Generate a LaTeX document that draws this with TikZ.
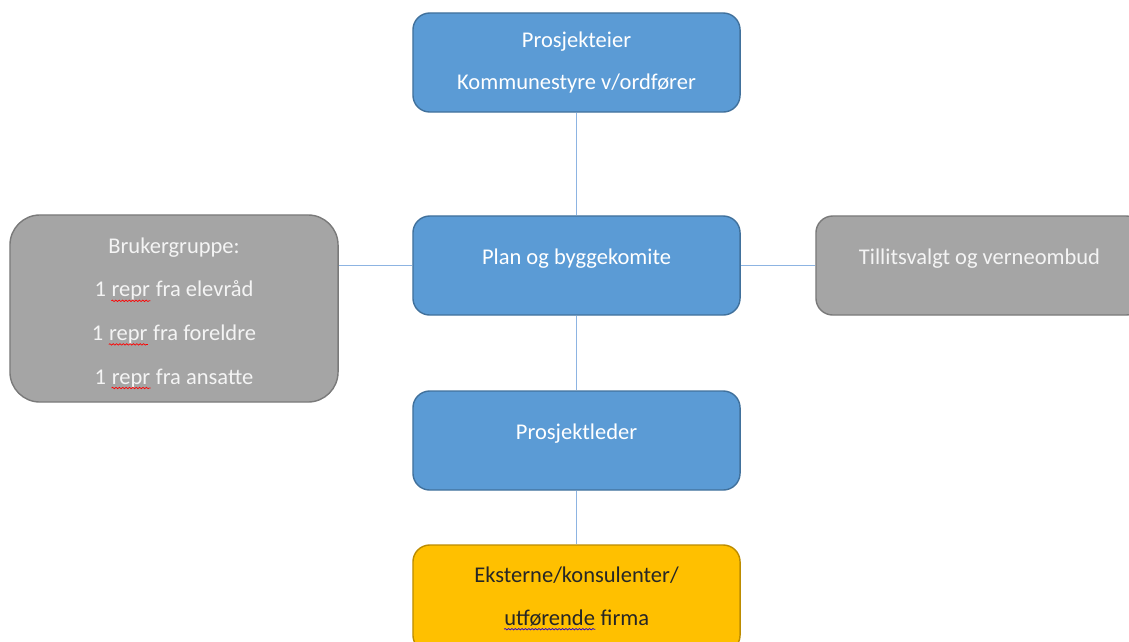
\documentclass[tikz,border=0pt]{standalone}
\usepackage{fontspec}
\setmainfont{Carlito}
\usetikzlibrary{decorations.pathmorphing}

\definecolor{boxblue}{HTML}{5B9BD5}
\definecolor{blueedge}{HTML}{41719C}
\definecolor{boxgray}{HTML}{A5A5A5}
\definecolor{grayedge}{HTML}{7A7A7A}
\definecolor{boxgold}{HTML}{FFC000}
\definecolor{goldedge}{HTML}{BC8C00}
\definecolor{linkblue}{HTML}{8DB4E2}
\definecolor{softwhite}{HTML}{F4F4F4}

% spell-check style wavy underline
\newcommand{\wavy}[3]{\tikz[baseline=(w.base)]{%
  \node[inner sep=0pt, minimum size=0pt, draw=none, fill=none, rounded corners=0pt, text=#2] (w) {#3};
  \draw[#1, line width=0.5pt, sharp corners, decorate, decoration={snake, amplitude=0.5pt, segment length=2.4pt}]
    ([yshift=-2.8pt]w.base west) -- ([yshift=-2.8pt]w.base east);}}

\tikzset{
  box/.style={rounded corners=0.42cm, minimum width=8.175cm, minimum height=2.475cm,
    line width=1pt, align=center, font=\fontsize{16pt}{30.5pt}\selectfont},
  bluebox/.style={box, fill=boxblue, draw=blueedge, text=white},
  graybox/.style={box, fill=boxgray, draw=grayedge, text=softwhite},
  goldbox/.style={box, fill=boxgold, draw=goldedge, text=black!85},
  oneline/.style={text height=11pt, text depth=12pt},
  link/.style={draw=linkblue, line width=0.8pt}
}

\begin{document}
\begin{tikzpicture}[x=0.025cm, y=-0.025cm]
\useasboundingbox (0,0) rectangle (1129,641);
\clip (0,0) rectangle (1129,641);

% Draw the boxes of the project organisation.
\node[bluebox] (eier) at (576.5,62.5) {Prosjekteier\\Kommunestyre v/ordfører};
\node[bluebox, oneline] (komite) at (576.5,265.5) {Plan og byggekomite};
\node[bluebox, oneline] (leder) at (576.5,440.5) {Prosjektleder};
\node[goldbox, minimum height=2.675cm] (ekstern) at (576.5,598.5) {Eksterne/konsulenter/\\\wavy{blue!70!violet}{black!85}{utførende} firma};
\node[graybox, minimum width=8.2cm, minimum height=4.675cm, rounded corners=0.75cm,
  font=\fontsize{16pt}{31pt}\selectfont] (bruker) at (174,308.5)
  {\rule{0pt}{18pt}Brukergruppe:\\1 \wavy{red}{softwhite}{repr} fra elevråd\\1 \wavy{red}{softwhite}{repr} fra foreldre\\1 \wavy{red}{softwhite}{repr} fra ansatte};
\node[graybox, oneline] (tillit) at (979.5,265.5) {Tillitsvalgt og verneombud};

% Draw the connecting lines.
\draw[link] (eier.south) -- (komite.north);
\draw[link] (komite.south) -- (leder.north);
\draw[link] (leder.south) -- (ekstern.north);
\draw[link] (komite.west) -- (komite.west -| bruker.east);
\draw[link] (komite.east) -- (tillit.west);
\end{tikzpicture}
\end{document}
